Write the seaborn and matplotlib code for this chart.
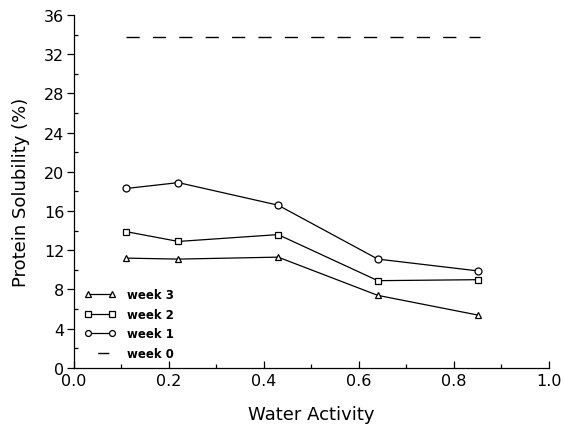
import matplotlib
matplotlib.use("Agg")
import matplotlib.pyplot as plt
import seaborn as sns
import pandas as pd
from matplotlib.lines import Line2D
from matplotlib.ticker import MultipleLocator

# Data
water_activity = [0.11, 0.22, 0.43, 0.64, 0.85]
week1 = [18.3, 18.9, 16.6, 11.1, 9.9]
week2 = [13.9, 12.9, 13.6, 8.9, 9.0]
week3 = [11.2, 11.1, 11.3, 7.4, 5.4]
week0_x = [0.11, 0.855]
week0_y = [33.7, 33.7]

xticks = [0.0, 0.2, 0.4, 0.6, 0.8, 1.0]
yticks = [0, 4, 8, 12, 16, 20, 24, 28, 32, 36]

sns.set_style("ticks")
plt.rcParams['font.family'] = ['DejaVu Sans']
plt.rcParams.update({"text.color": "black", "axes.labelcolor": "black",
                     "xtick.color": "black", "ytick.color": "black"})

fig = plt.figure(figsize=(5.64, 4.31), dpi=100)
ax = fig.add_axes([0.131, 0.144, 0.842, 0.819])

df = pd.DataFrame({"aw": water_activity, "w1": week1, "w2": week2, "w3": week3})
d0 = pd.DataFrame({"aw": week0_x, "w0": week0_y})

common = dict(color="black", linewidth=0.9, markersize=5, markerfacecolor="white",
              markeredgecolor="black", markeredgewidth=0.9)
sns.lineplot(data=df, x="aw", y="w3", ax=ax, marker="^", **common)
sns.lineplot(data=df, x="aw", y="w2", ax=ax, marker="s", **common)
sns.lineplot(data=df, x="aw", y="w1", ax=ax, marker="o", **common)
sns.lineplot(data=d0, x="aw", y="w0", ax=ax, color="black", linewidth=1.0,
             dashes=False, linestyle=(0, (9.5, 9.5)))

ax.set_xlim(0, 1.0)
ax.set_ylim(0, 36)
ax.set_xticks(xticks)
ax.set_xticklabels([f"{v:.1f}" for v in xticks])
ax.set_yticks(yticks)
ax.set_yticklabels([str(v) for v in yticks])
ax.xaxis.set_minor_locator(MultipleLocator(0.1))
ax.yaxis.set_minor_locator(MultipleLocator(2))

ax.tick_params(axis="x", which="major", direction="in", length=5, width=0.9, labelsize=11.5, pad=4)
ax.tick_params(axis="x", which="minor", direction="in", length=3, width=0.9)
ax.tick_params(axis="y", which="major", direction="out", length=5, width=0.9, labelsize=11.5, pad=2)
ax.tick_params(axis="y", which="minor", direction="in", length=3, width=0.9)
for s in ["top", "right"]:
    ax.spines[s].set_visible(False)
for s in ["left", "bottom"]:
    ax.spines[s].set_linewidth(0.9)
    ax.spines[s].set_color("black")

ax.set_xlabel("Water Activity", fontsize=13, labelpad=12, color="black")
ax.set_ylabel("Protein Solubility (%)", fontsize=13, labelpad=10, color="black")

lines = ax.get_lines()
h0 = Line2D([], [], color="black", linewidth=1.0, linestyle=(31, (8, 30)))
handles = [lines[0], lines[1], lines[2], h0]
labels = ["week 3", "week 2", "week 1", "week 0"]
leg = ax.legend(handles, labels, loc="lower left", bbox_to_anchor=(0.005, 0.0),
                frameon=False, numpoints=2, handlelength=2.6, handletextpad=1.0,
                labelspacing=0.55, borderaxespad=0.3, markerscale=0.85,
                prop={"weight": "bold", "size": 8.5})
for t in leg.get_texts():
    t.set_color("black")

fig.savefig("out.png", dpi=100)
